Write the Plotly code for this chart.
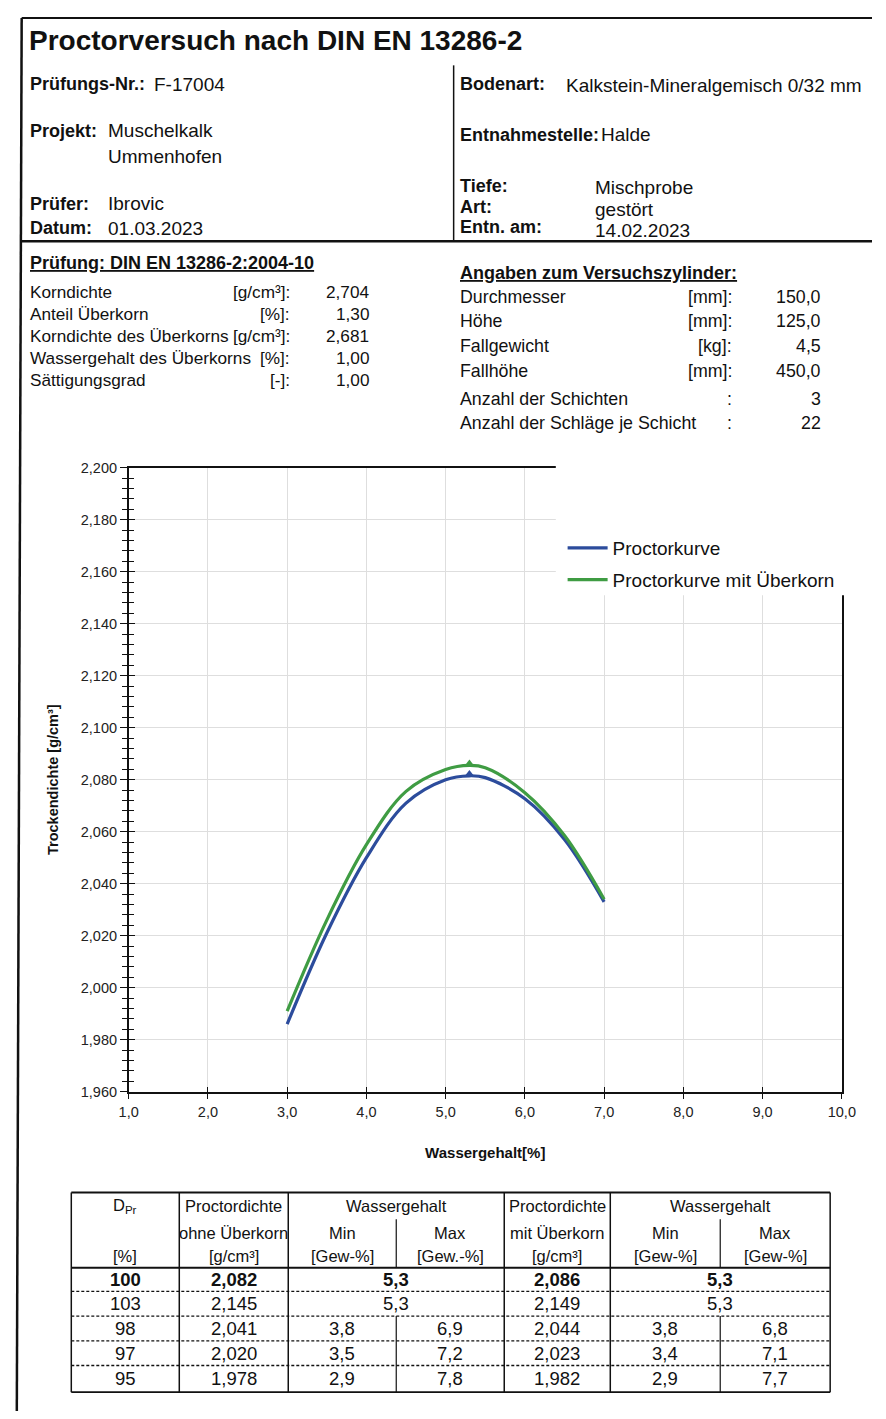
import plotly.graph_objects as go

# ---------------- data ----------------
water_content = [3.0, 3.5, 4.0, 4.5, 5.0, 5.3, 5.5, 6.0, 6.5, 7.0]
density_plain = [1.986, 2.021, 2.050, 2.071, 2.080, 2.0815, 2.0808, 2.0727, 2.057, 2.033]
density_oversize = [1.991, 2.026, 2.055, 2.0755, 2.0839, 2.0855, 2.0846, 2.075, 2.0585, 2.034]
optimum_water = 5.3
optimum_plain = 2.082
optimum_oversize = 2.086
series_names = ["Proctorkurve", "Proctorkurve mit Überkorn"]

x_range = [1.0, 10.0]
y_range = [1.96, 2.20]

title_text = "Proctorversuch nach DIN EN 13286-2"
header_left = [("Prüfungs-Nr.:", "F-17004"), ("Projekt:", "Muschelkalk"), ("", "Ummenhofen"),
               ("Prüfer:", "Ibrovic"), ("Datum:", "01.03.2023")]
header_right = [("Bodenart:", "Kalkstein-Mineralgemisch 0/32 mm"), ("Entnahmestelle:", "Halde"),
                ("Tiefe:", "Mischprobe"), ("Art:", "gestört"), ("Entn. am:", "14.02.2023")]

test_title = "Prüfung: DIN EN 13286-2:2004-10"
test_labels = ["Korndichte", "Anteil Überkorn", "Korndichte des Überkorns",
               "Wassergehalt des Überkorns", "Sättigungsgrad"]
test_units = ["[g/cm³]:", "[%]:", "[g/cm³]:", "[%]:", "[-]:"]
test_values = ["2,704", "1,30", "2,681", "1,00", "1,00"]

cyl_title = "Angaben zum Versuchszylinder:"
cyl_labels = ["Durchmesser", "Höhe", "Fallgewicht", "Fallhöhe",
              "Anzahl der Schichten", "Anzahl der Schläge je Schicht"]
cyl_units = ["[mm]:", "[mm]:", "[kg]:", "[mm]:", ":", ":"]
cyl_values = ["150,0", "125,0", "4,5", "450,0", "3", "22"]

tbl_dpr = ["100", "103", "98", "97", "95"]
tbl_rho_plain = ["2,082", "2,145", "2,041", "2,020", "1,978"]
tbl_wmin_plain = ["5,3", "5,3", "3,8", "3,5", "2,9"]
tbl_wmax_plain = [None, None, "6,9", "7,2", "7,8"]
tbl_rho_over = ["2,086", "2,149", "2,044", "2,023", "1,982"]
tbl_wmin_over = ["5,3", "5,3", "3,8", "3,4", "2,9"]
tbl_wmax_over = [None, None, "6,8", "7,1", "7,7"]

# ---------------- helpers ----------------
W, H = 886, 1419


def X(px):
    return px / W


def Y(py):
    return 1 - py / H


BODY = "Liberation Sans, Arial, sans-serif"
CHART = "Liberation Sans, Arial, sans-serif"
BLUE = "#2c4c9c"
GREEN = "#3f9c43"

annotations = []
shapes = []


def text(x, y, s, size, anchor="left", bold=False, family=None, under=False):
    f = dict(size=size, family=family or BODY, color="#111")
    if under:
        f["lineposition"] = "under"
    annotations.append(dict(x=X(x), y=Y(y), xref="paper", yref="paper",
                            text=("<b>%s</b>" % s) if bold else s,
                            showarrow=False, xanchor=anchor, yanchor="middle", font=f,
                            borderpad=0, align="left"))


def line(x0, y0, x1, y1, w=1.5, dash=None, color="#111"):
    ln = dict(color=color, width=w)
    if dash:
        ln["dash"] = dash
    shapes.append(dict(type="line", xref="paper", yref="paper", x0=X(x0), y0=Y(y0), x1=X(x1), y1=Y(y1),
                       line=ln, layer="above"))


# ---------------- chart ----------------
fig = go.Figure()
fig.add_trace(go.Scatter(x=water_content, y=density_plain, mode="lines", name=series_names[0],
                         legendgroup="a", line=dict(color=BLUE, width=3.2, shape="spline", smoothing=1.0)))
fig.add_trace(go.Scatter(x=[optimum_water], y=[optimum_plain], mode="markers", showlegend=False,
                         marker=dict(symbol="triangle-up", size=9, color=BLUE)))
fig.add_trace(go.Scatter(x=water_content, y=density_oversize, mode="lines", name=series_names[1],
                         legendgroup="b", line=dict(color=GREEN, width=3.2, shape="spline", smoothing=1.0)))
fig.add_trace(go.Scatter(x=[optimum_water], y=[optimum_oversize], mode="markers", showlegend=False,
                         marker=dict(symbol="triangle-up", size=9, color=GREEN)))
fig.add_trace(go.Scatter(x=[None], y=[None], xaxis="x2", yaxis="y2", showlegend=False, hoverinfo="skip"))

xdom = [X(122), X(855)]
ydom = [Y(1096), Y(465)]
tickfont = dict(size=14.5, family=CHART, color="#222")

# ---------------- page text ----------------
text(18, 33, title_text, 28, bold=True, family=CHART)

left_y = [77, 124, 150, 198, 223]
for (lab, val), yy in zip(header_left, left_y):
    if lab:
        text(20, yy, lab, 18, bold=True)
    vx = 147 if lab.startswith("Prüfungs") else 100
    text(vx, yy, val, 19)

right_lab_y = [77, 128, 180, 201, 222]
right_val_y = [78, 128, 182, 204, 225]
right_vx = [570, 606, 600, 600, 600]
for (lab, val), ly, vy, vx in zip(header_right, right_lab_y, right_val_y, right_vx):
    text(462, ly, lab, 18, bold=True)
    text(vx, vy, val, 19)

text(20, 258, test_title, 18, bold=True, under=True)
for i, (lab, unit, val) in enumerate(zip(test_labels, test_units, test_values)):
    yy = 287 + i * 22.3
    text(20, yy, lab, 17.2)
    text(289, yy, unit, 17.2, anchor="right")
    text(370, yy, val, 17.2, anchor="right")

text(462, 268, cyl_title, 18, bold=True, under=True)
cyl_y = [292, 317, 342, 367, 395, 420]
for lab, unit, val, yy in zip(cyl_labels, cyl_units, cyl_values, cyl_y):
    text(462, yy, lab, 17.8)
    text(743, yy, unit, 17.8, anchor="right")
    text(835, yy, val, 17.8, anchor="right")

# ---------------- frame lines ----------------
line(12, 10, 886, 10, 2)
line(12, 10, 7, 1419, 2.5)
line(456, 58, 456, 236, 1.5)
line(12, 236, 886, 236, 2.5)

# cover for legend region (plot frame interrupted there)
shapes.append(dict(type="rect", xref="paper", yref="paper", x0=X(561), x1=X(880), y0=Y(594), y1=Y(455),
                   fillcolor="white", line=dict(width=0), layer="above"))

# ---------------- table ----------------
cols = [63, 174, 286, 397, 508, 617, 730, 843]
top, hdr_bot, bot = 1198, 1274, 1400
row_lines = [1274, 1298, 1323, 1348, 1373, 1400]
line(cols[0], top, cols[-1], top, 1.8)
line(cols[0], bot, cols[-1], bot, 1.8)
line(cols[0], hdr_bot, cols[-1], hdr_bot, 2.0)
for c in [cols[0], cols[1], cols[2], cols[4], cols[5], cols[7]]:
    line(c, top, c, bot, 1.5)
for c in [cols[3], cols[6]]:
    line(c, 1225, c, hdr_bot, 1.2)
    line(c, row_lines[2], c, bot, 1.2)
for yy in row_lines[1:-1]:
    line(cols[0], yy, cols[-1], yy, 1.3, dash="3px,2px")

centers = [(cols[i] + cols[i + 1]) / 2 for i in range(7)]
TS = 18.5
HS = 16.5
text(centers[0], 1212, "D<sub>Pr</sub>", HS, anchor="center")
text(centers[1], 1212, "Proctordichte", HS, anchor="center")
text(cols[3], 1212, "Wassergehalt", HS, anchor="center")
text(centers[4], 1212, "Proctordichte", HS, anchor="center")
text(cols[6], 1212, "Wassergehalt", HS, anchor="center")
row2 = ["", "ohne Überkorn", "Min", "Max", "mit Überkorn", "Min", "Max"]
row3 = ["[%]", "[g/cm³]", "[Gew-%]", "[Gew.-%]", "[g/cm³]", "[Gew-%]", "[Gew-%]"]
for cx, a, b in zip(centers, row2, row3):
    if a:
        text(cx, 1239, a, HS, anchor="center")
    text(cx, 1262, b, HS, anchor="center")

for i in range(5):
    yy = (row_lines[i] + row_lines[i + 1]) / 2
    bold = i == 0
    text(centers[0], yy, tbl_dpr[i], TS, anchor="center", bold=bold)
    text(centers[1], yy, tbl_rho_plain[i], TS, anchor="center", bold=bold)
    text(centers[4], yy, tbl_rho_over[i], TS, anchor="center", bold=bold)
    if tbl_wmax_plain[i] is None:
        text(cols[3], yy, tbl_wmin_plain[i], TS, anchor="center", bold=bold)
    else:
        text(centers[2], yy, tbl_wmin_plain[i], TS, anchor="center")
        text(centers[3], yy, tbl_wmax_plain[i], TS, anchor="center")
    if tbl_wmax_over[i] is None:
        text(cols[6], yy, tbl_wmin_over[i], TS, anchor="center", bold=bold)
    else:
        text(centers[5], yy, tbl_wmin_over[i], TS, anchor="center")
        text(centers[6], yy, tbl_wmax_over[i], TS, anchor="center")

# ---------------- layout ----------------
axis_common = dict(showline=True, linecolor="#111", linewidth=1.5, mirror=True, tickcolor="#111",
                   gridcolor="#dedede", gridwidth=1, zeroline=False)
fig.update_layout(
    width=W, height=H, autosize=False,
    margin=dict(l=0, r=0, t=0, b=0),
    paper_bgcolor="white", plot_bgcolor="white",
    separators=",.",
    font=dict(family=CHART, color="#111"),
    xaxis=dict(domain=xdom, range=x_range, dtick=1, tick0=1, tickformat=".1f", ticks="outside",
               ticklen=6, tickwidth=1.2, tickfont=tickfont, showgrid=True,
               title=dict(text="<b>Wassergehalt[%]</b>", font=dict(size=15, family=CHART), standoff=29),
               **axis_common),
    yaxis=dict(domain=ydom, range=y_range, dtick=0.02, tick0=1.96, tickformat=".3f", ticks="outside",
               ticklen=7, tickwidth=1.2, tickfont=tickfont, showgrid=True,
               minor=dict(dtick=0.004, tick0=1.96, ticks="outside", ticklen=5, tickcolor="#111", showgrid=False),
               title=dict(text="<b>Trockendichte [g/cm³]</b>", font=dict(size=14.5, family=CHART), standoff=19),
               **axis_common),
    xaxis2=dict(overlaying="x", anchor="y2", range=x_range, dtick=1, tick0=1, ticks="inside", ticklen=5,
                tickwidth=1.2, tickcolor="#111", showticklabels=False, showgrid=False, showline=False,
                zeroline=False),
    yaxis2=dict(overlaying="y", anchor="x2", side="left", range=y_range, dtick=0.02, tick0=1.96,
                ticks="inside", ticklen=6, tickwidth=1.2, tickcolor="#111", showticklabels=False,
                minor=dict(dtick=0.004, tick0=1.96, ticks="inside", ticklen=5, tickcolor="#111", showgrid=False),
                showgrid=False, showline=False, zeroline=False),
    legend=dict(x=X(568), y=Y(527), xanchor="left", yanchor="top", bgcolor="rgba(0,0,0,0)",
                font=dict(size=19, family=CHART, color="#111"), traceorder="grouped",
                tracegroupgap=4, itemwidth=40),
    annotations=annotations,
    shapes=shapes,
    showlegend=True,
)

# remove the browser's default 8px body margin so the 886x1419 figure fills the window exactly
fig.write_html("out.html", config={"displayModeBar": False},
               post_script="document.body.style.margin='0';document.body.style.overflow='hidden';")
